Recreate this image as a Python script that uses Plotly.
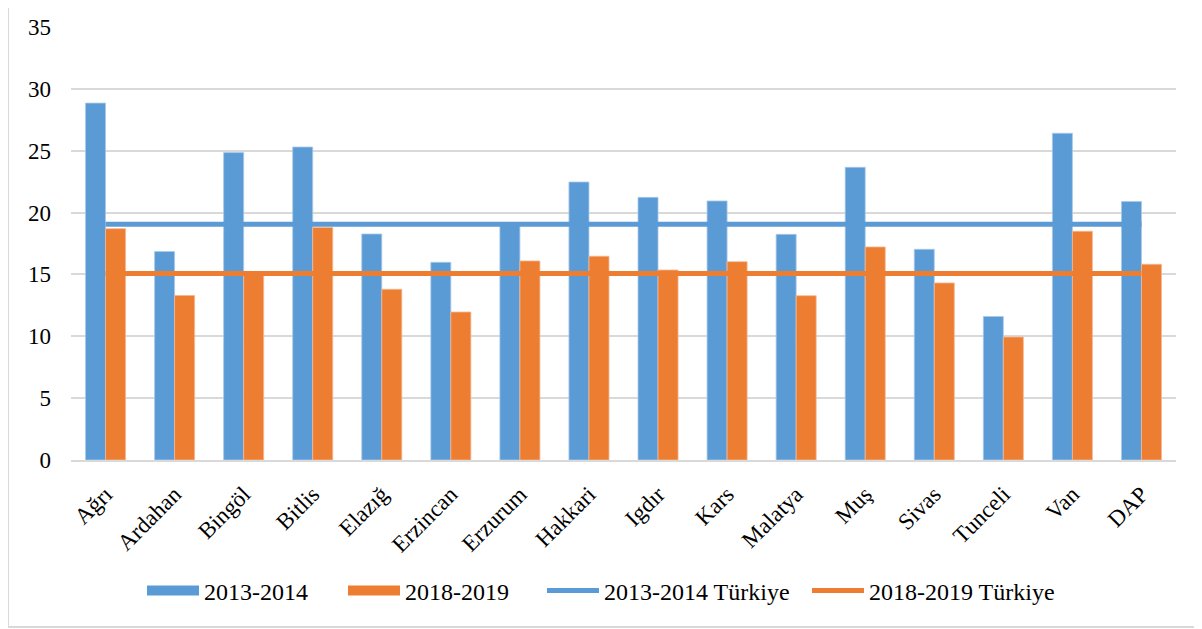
import plotly.graph_objects as go

categories = ["Ağrı", "Ardahan", "Bingöl", "Bitlis", "Elazığ", "Erzincan", "Erzurum",
              "Hakkari", "Igdır", "Kars", "Malatya", "Muş", "Sivas", "Tunceli", "Van", "DAP"]
values_2013 = [28.85, 16.85, 24.85, 25.3, 18.27, 15.98, 19.0, 22.47, 21.23, 20.94,
               18.24, 23.66, 17.03, 11.6, 26.41, 20.9]
values_2018 = [18.7, 13.3, 15.2, 18.8, 13.8, 11.96, 16.09, 16.47, 15.36, 16.03,
               13.28, 17.22, 14.31, 9.94, 18.49, 15.82]
turkiye_2013 = 19.05
turkiye_2018 = 15.08
series_names = ["2013-2014", "2018-2019", "2013-2014 Türkiye", "2018-2019 Türkiye"]

BLUE = "#5B9BD5"
ORANGE = "#ED7D31"
FONT = "Liberation Serif"

W, H = 1202, 629
ML, MT = 63, 19          # page body adds an 8px offset
PW, PH = 1105, 433
MR = W - ML - PW
MB = H - MT - PH

fig = go.Figure()
fig.add_trace(go.Bar(x=categories, y=values_2013, name=series_names[0], showlegend=False,
                     marker=dict(color=BLUE, line=dict(color="#A9C9EA", width=0.8))))
fig.add_trace(go.Bar(x=categories, y=values_2018, name=series_names[1], showlegend=False,
                     marker=dict(color=ORANGE, line=dict(color="#F5B894", width=0.8))))
fig.add_trace(go.Scatter(x=categories, y=[turkiye_2013] * len(categories), mode="lines",
                         name=series_names[2], showlegend=False,
                         line=dict(color=BLUE, width=5)))
fig.add_trace(go.Scatter(x=categories, y=[turkiye_2018] * len(categories), mode="lines",
                         name=series_names[3], showlegend=False,
                         line=dict(color=ORANGE, width=5)))

# legend entries (wide swatches like the original)
legend_ids = ["legend", "legend2", "legend3", "legend4"]
legend_left = [134, 335, 534, 799]
for nm, col, w, lid in zip(series_names, [BLUE, ORANGE, BLUE, ORANGE], [11, 11, 5, 5], legend_ids):
    fig.add_trace(go.Scatter(x=[None], y=[None], mode="lines", name=nm, legend=lid,
                             line=dict(color=col, width=w), showlegend=True))

legend_common = dict(orientation="h", xref="container", yref="container",
                     xanchor="left", y=1 - 583 / H, yanchor="middle",
                     font=dict(family=FONT, size=24), itemwidth=52,
                     bgcolor="rgba(0,0,0,0)")
layout_legends = {lid: dict(legend_common, x=lx / W) for lid, lx in zip(legend_ids, legend_left)}

fig.update_layout(
    width=W, height=H,
    margin=dict(l=ML, r=MR, t=MT, b=MB, autoexpand=False),
    paper_bgcolor="white", plot_bgcolor="white",
    font=dict(family=FONT, color="#000000"),
    barmode="group", bargap=0.42, bargroupgap=0,
    showlegend=True,
    shapes=[dict(type="rect", xref="paper", yref="paper",
                 x0=-ML / PW, x1=1 + 60 / PW, y0=-167 / PH, y1=1 + 40 / PH,
                 line=dict(color="#D9D9D9", width=2), fillcolor="rgba(0,0,0,0)",
                 layer="below")],
    **layout_legends,
)
fig.update_xaxes(tickangle=-45, tickfont=dict(family=FONT, size=23),
                 showline=True, linecolor="#D9D9D9", linewidth=1.5,
                 showgrid=False, ticks="", automargin=False, ticklabelstandoff=10)
fig.update_yaxes(range=[0, 35], dtick=5, tickfont=dict(family=FONT, size=23),
                 showgrid=True, gridcolor="#D9D9D9", gridwidth=1.5,
                 zeroline=False, showline=False, ticks="", ticklabelstandoff=19,
                 automargin=False)

fig.write_html("out.html")
